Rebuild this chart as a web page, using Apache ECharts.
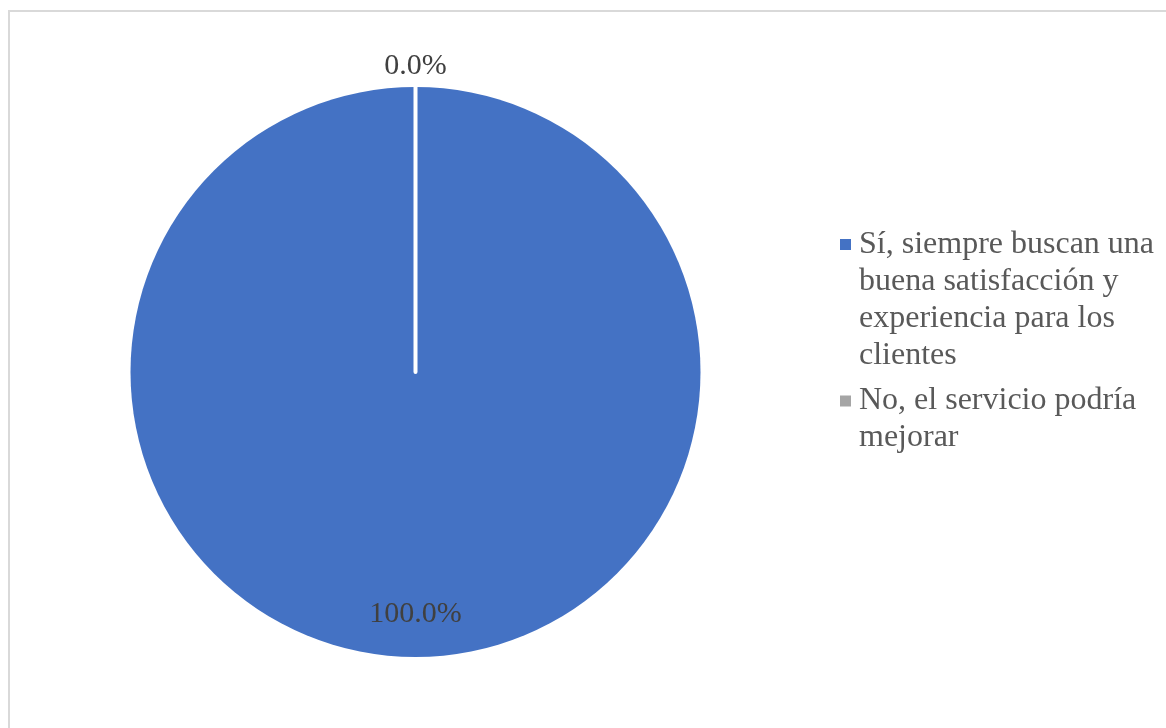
<!DOCTYPE html>
<html>
<head>
<meta charset="utf-8">
<title>Satisfacción del servicio</title>
<script src="https://cdn.jsdelivr.net/npm/echarts@6/dist/echarts.min.js"></script>
<style>
  html, body { margin: 0; padding: 0; background: #ffffff; overflow: hidden; }
  #frame {
    position: absolute; left: 8px; top: 10px;
    width: 1200px; height: 760px;
    border: 2px solid #d9d9d9; box-sizing: border-box;
  }
  #chart { position: absolute; left: 0; top: 0; width: 1166px; height: 728px; }
</style>
</head>
<body>
<div id="frame"></div>
<div id="chart"></div>
<script>
// Answer categories and their share of responses
const categories = [
  'Sí, siempre buscan una buena satisfacción y experiencia para los clientes',
  'No, el servicio podría mejorar'
];
const shares = [100.0, 0.0];
const sliceColors = ['#4472C4', '#A5A5A5'];
// Legend text broken into lines
const legendLines = [
  ['Sí, siempre buscan una', 'buena satisfacción y', 'experiencia para los', 'clientes'],
  ['No, el servicio podría', 'mejorar']
];

const FONT = "'Liberation Serif', 'Times New Roman', serif";
const LINE_H = 37;

const chart = echarts.init(document.getElementById('chart'), null, { renderer: 'canvas' });

const pieData = categories.map((name, i) => ({
  name: name,
  value: shares[i],
  itemStyle: {
    color: sliceColors[i],
    borderColor: '#ffffff',
    borderWidth: shares[i] === 0 ? 4 : 0
  }
}));

// One legend block per category; leading blank lines keep the swatch
// level with the first line of the wrapped text (text is centred on the swatch)
const legendTops = [110, 340.5];
const legends = categories.map((name, i) => ({
  data: [name],
  orient: 'vertical',
  left: 835,
  top: legendTops[i],
  itemWidth: 11,
  itemHeight: 11,
  selectedMode: false,
  icon: 'rect',
  itemStyle: { borderWidth: 0 },
  formatter: () => '\n'.repeat(legendLines[i].length - 1) + legendLines[i].join('\n'),
  textStyle: {
    fontFamily: FONT,
    fontSize: 32,
    color: '#595959',
    lineHeight: LINE_H,
    padding: [0, 0, 0, 3]
  }
}));

chart.setOption({
  animation: false,
  backgroundColor: 'transparent',
  legend: legends,
  series: [{
    type: 'pie',
    center: [415.5, 372],
    radius: 285,
    startAngle: 90,
    clockwise: true,
    avoidLabelOverlap: false,
    silent: true,
    data: pieData,
    label: {
      show: true,
      position: 'inside',
      fontFamily: FONT,
      fontSize: 30,
      color: '#404040',
      formatter: p => p.value.toFixed(1) + '%'
    },
    labelLine: { show: false },
    labelLayout: function (params) {
      // push the full-circle label toward the rim, lift the empty slice's label above the pie
      return params.dataIndex === 0 ? { dy: 96.5 } : { dy: -160.5 };
    }
  }]
});
</script>
</body>
</html>
